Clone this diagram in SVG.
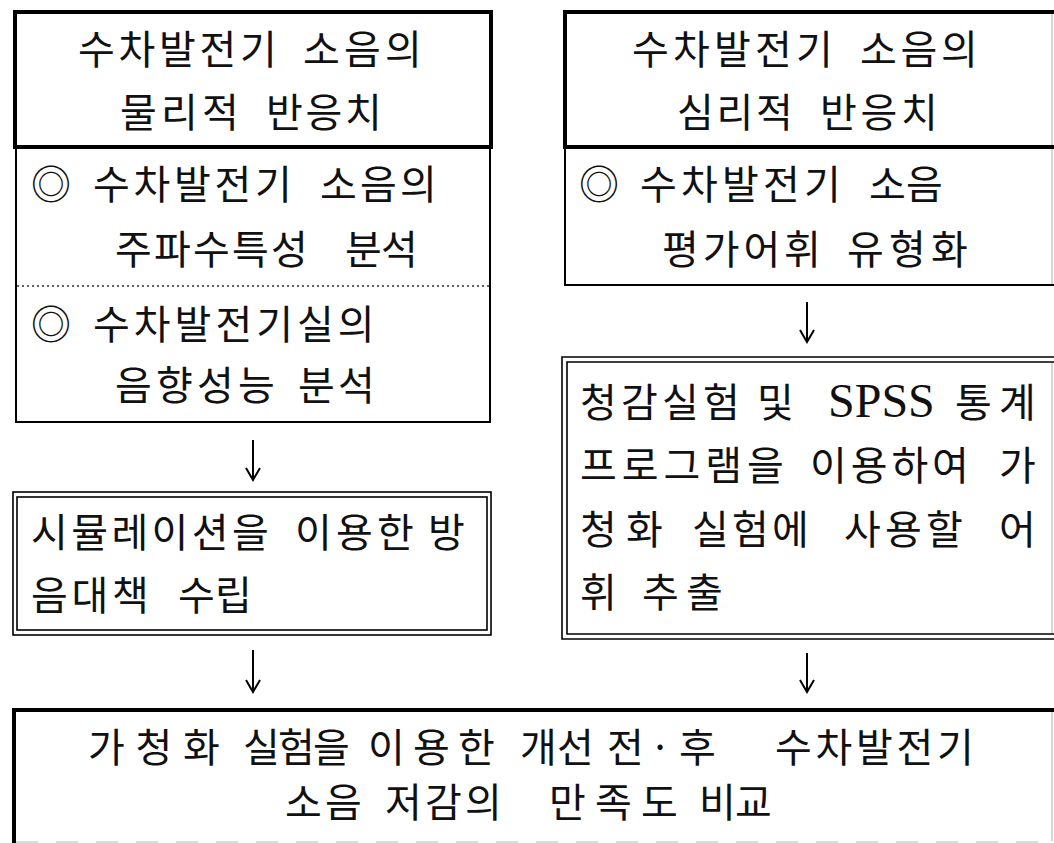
<svg xmlns="http://www.w3.org/2000/svg" width="1054" height="843" viewBox="0 0 1054 843">
<style>
.t{font-family:"Noto Sans CJK KR","Noto Sans CJK SC",sans-serif;font-size:40px;fill:#111}
.s{font-family:"Liberation Serif",serif;font-size:48px}
.thick{fill:none;stroke:#000;stroke-width:4}
.thin{fill:none;stroke:#000;stroke-width:2}
.dbl{fill:none;stroke:#000;stroke-width:1.6}
.faint{fill:none;stroke:#bbb;stroke-width:1.2}
.dot{fill:none;stroke:#333;stroke-width:1.5;stroke-dasharray:2 3}
.arr{fill:none;stroke:#000;stroke-width:2}
</style>
<rect width="1054" height="843" fill="#fff"/>

<g id="left-physical">
  <rect class="thick" x="15" y="12" width="476" height="135"/>
  <text class="t" y="64"><tspan x="78 118.5 159 199.5 240">수차발전기</tspan> <tspan x="303 344 385">소음의</tspan></text>
  <text class="t" y="127"><tspan x="120 161 202">물리적</tspan> <tspan x="266 305.5 345">반응치</tspan></text>
</g>

<g id="left-analysis">
  <rect class="thin" x="16" y="147" width="474" height="275"/>
  <line class="dot" x1="17" y1="286" x2="489" y2="286"/>
  <text class="t" y="199"><tspan x="31">◎</tspan> <tspan x="93 133.5 174 214.5 255">수차발전기</tspan> <tspan x="320 360 400">소음의</tspan></text>
  <text class="t" y="264"><tspan x="115 154 193 232 271">주파수특성</tspan> <tspan x="345 381">분석</tspan></text>
  <text class="t" y="339"><tspan x="31">◎</tspan> <tspan x="93 133.8 174.6 215.4 256.2 297 337.8">수차발전기실의</tspan></text>
  <text class="t" y="400"><tspan x="115 156 197 238">음향성능</tspan> <tspan x="298 338">분석</tspan></text>
</g>

<g id="left-simulation">
  <rect class="dbl" x="13" y="492" width="478" height="143"/>
  <rect class="dbl" x="17" y="497" width="470" height="133"/>
  <text class="t" y="547"><tspan x="31 71.2 111.4 151.6 191.8 232">시뮬레이션을</tspan> <tspan x="295 336 377">이용한</tspan> <tspan x="428">방</tspan></text>
  <text class="t" y="610"><tspan x="31 71.5 112">음대책</tspan> <tspan x="178 215">수립</tspan></text>
</g>

<g id="right-psych">
  <path class="thick" d="M1054 12 H565 V147 H1054"/>
  <line class="faint" x1="1052" y1="14" x2="1052" y2="145"/>
  <text class="t" y="64"><tspan x="632 673 714 755 796">수차발전기</tspan> <tspan x="860 900.5 941">소음의</tspan></text>
  <text class="t" y="127"><tspan x="677 716.5 756">심리적</tspan> <tspan x="820 860.5 901">반응치</tspan></text>
</g>

<g id="right-vocab">
  <path class="thin" d="M1054 147 H565 V285 H1054"/>
  <line class="faint" x1="1052" y1="149" x2="1052" y2="284"/>
  <text class="t" y="199"><tspan x="579">◎</tspan> <tspan x="640 681 722 763 804">수차발전기</tspan> <tspan x="869 906">소음</tspan></text>
  <text class="t" y="264"><tspan x="662 702.7 743.4 784">평가어휘</tspan> <tspan x="847 889 931">유형화</tspan></text>
</g>

<g id="right-listening">
  <path class="dbl" d="M1054 357 H562 V639 H1054"/>
  <path class="dbl" d="M1054 362 H567 V634 H1054"/>
  <line class="faint" x1="1052" y1="363" x2="1052" y2="633"/>
  <text class="t" y="417"><tspan x="580 621 662 703">청감실험</tspan> <tspan x="757">및</tspan> <tspan x="828" class="s">SPSS</tspan> <tspan x="955 999">통계</tspan></text>
  <text class="t" y="480"><tspan x="580 621.75 663.5 705.25 747">프로그램을</tspan> <tspan x="810 850.7 891.4 932">이용하여</tspan> <tspan x="999">가</tspan></text>
  <text class="t" y="544"><tspan x="580 626">청화</tspan> <tspan x="692 732 772">실험에</tspan> <tspan x="844 885 926">사용할</tspan> <tspan x="999">어</tspan></text>
  <text class="t" y="607"><tspan x="580">휘</tspan> <tspan x="642 686">추출</tspan></text>
</g>

<g id="bottom-compare">
  <path class="thick" d="M1054 710 H14 V843"/>
  <line class="faint" x1="1052" y1="712" x2="1052" y2="841"/>
  <line class="faint" x1="16" y1="842" x2="1052" y2="842" style="stroke-dasharray:22 18"/>
  <text class="t" y="762"><tspan x="88 135.5 183">가청화</tspan> <tspan x="243 278 313">실험을</tspan> <tspan x="368 413 458">이용한</tspan> <tspan x="520 557">개선</tspan> <tspan x="607 649 679">전·후</tspan> <tspan x="775 815.5 856 896.5 937">수차발전기</tspan></text>
  <text class="t" y="817"><tspan x="285 325">소음</tspan> <tspan x="385 425 465">저감의</tspan> <tspan x="549 595 641">만족도</tspan> <tspan x="699 735">비교</tspan></text>
</g>

<g id="connectors">
  <path class="arr" d="M253 440 V479 M246 468 L253 480 L260 468"/>
  <path class="arr" d="M253 650 V691 M246 680 L253 692 L260 680"/>
  <path class="arr" d="M807 302 V341 M800 330 L807 342 L814 330"/>
  <path class="arr" d="M807 653 V691 M800 680 L807 692 L814 680"/>
</g>
</svg>
